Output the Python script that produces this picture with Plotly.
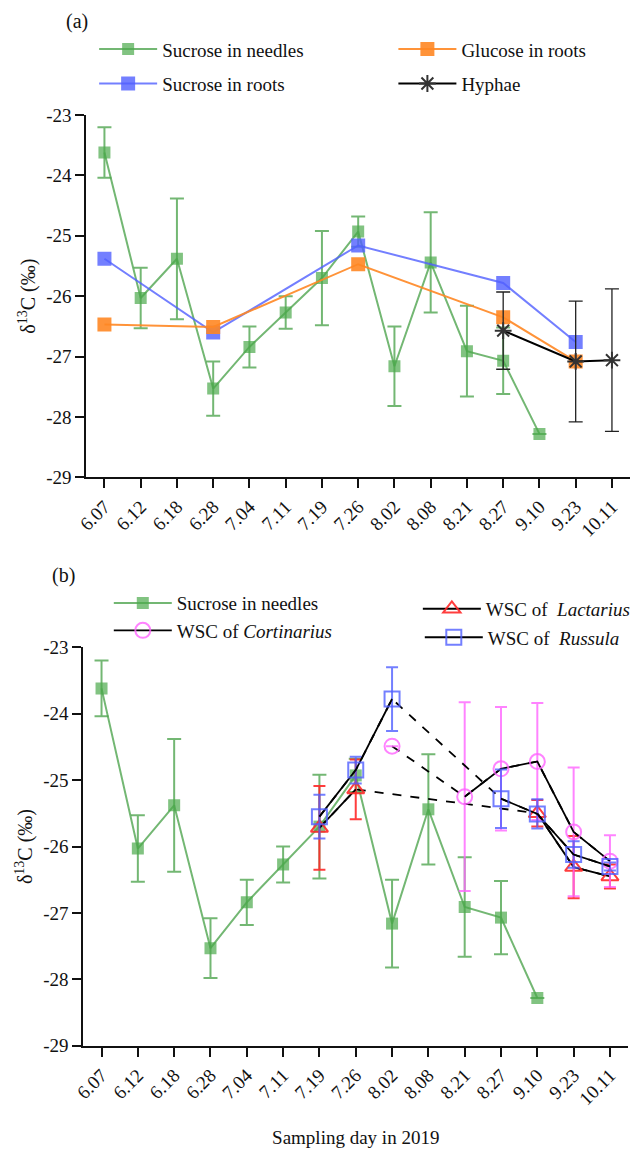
import plotly.graph_objects as go

days = ["6.07", "6.12", "6.18", "6.28", "7.04", "7.11", "7.19", "7.26",
        "8.02", "8.08", "8.21", "8.27", "9.10", "9.23", "10.11"]
y_ticks = [-29, -28, -27, -26, -25, -24, -23]
y_tick_labels = ["-29", "-28", "-27", "-26", "-25", "-24", "-23"]
N = None

# Panel (a)
needles = [-23.62, -26.03, -25.38, -27.53, -26.84, -26.27, -25.70, -24.93,
           -27.16, -25.44, -26.91, -27.07, -28.28, N, N]
needles_err = [0.42, 0.50, 1.00, 0.45, 0.34, 0.27, 0.78, 0.25,
               0.66, 0.83, 0.75, 0.55, N, N, N]
roots_suc = [-25.38, N, N, -26.60, N, N, N, -25.16, N, N, N, -25.78, N, -26.76, N]
roots_glu = [-26.47, N, N, -26.51, N, N, N, -25.47, N, N, N, -26.35, N, -27.08, N]
hyphae = [N, N, N, N, N, N, N, N, N, N, N, -26.57, N, -27.08, -27.06]
hyphae_err = [N, N, N, N, N, N, N, N, N, N, N, 0.64, N, 1.00, 1.18]

# Panel (b)
russula = [N, N, N, N, N, N, -25.55, -24.85, -23.78, N, N, -25.28, -25.51, -26.12, -26.30]
russula_err = [N, N, N, N, N, N, 0.33, 0.20, 0.48, N, N, 0.44, 0.22, 0.20, 0.06]
lactarius = [N, N, N, N, N, N, -25.72, -25.14, N, N, N, N, -25.50, -26.31, -26.45]
lactarius_err = [N, N, N, N, N, N, 0.63, 0.45, N, N, N, N, 0.20, 0.47, 0.18]
cortinarius = [N, N, N, N, N, N, N, N, -24.49, N, -25.25, -24.83, -24.72, -25.78, -26.22]
cortinarius_err = [N, N, N, N, N, N, N, N, N, N, 1.42, 0.93, 0.88, 0.97, 0.39]

GREEN_L = "rgba(80,165,80,0.80)"
GREEN_M = "rgba(76,170,76,0.70)"
BLUE = "rgba(80,95,255,0.80)"
ORANGE = "rgba(255,135,35,0.90)"
RED = "rgba(255,40,40,0.90)"
MAG = "rgba(255,100,255,0.80)"
FONT = "Liberation Serif, Times New Roman, DejaVu Serif, serif"

fig = go.Figure()

def err(arr, color, w=2, cap=7):
    return dict(type="data", array=arr, symmetric=True, color=color,
                thickness=w, width=cap, visible=True)

# ---- panel a
fig.add_trace(go.Scatter(x=days, y=needles, mode="lines+markers", name="Sucrose in needles",
    line=dict(color=GREEN_L, width=2), connectgaps=True,
    marker=dict(symbol="square", size=12, color=GREEN_M),
    error_y=err(needles_err, GREEN_L), xaxis="x", yaxis="y", legend="legend"))
fig.add_trace(go.Scatter(x=days, y=roots_suc, mode="lines+markers", name="Sucrose in roots",
    line=dict(color=BLUE, width=2), connectgaps=True,
    marker=dict(symbol="square", size=14, color=BLUE),
    xaxis="x", yaxis="y", legend="legend2"))
fig.add_trace(go.Scatter(x=days, y=roots_glu, mode="lines+markers", name="Glucose in roots",
    line=dict(color=ORANGE, width=2), connectgaps=True,
    marker=dict(symbol="square", size=14, color=ORANGE),
    xaxis="x", yaxis="y", legend="legend3"))
fig.add_trace(go.Scatter(x=days, y=hyphae, mode="lines+markers", name="Hyphae",
    line=dict(color="black", width=2), connectgaps=True,
    marker=dict(symbol="asterisk-open", size=14, color="#333333", line=dict(width=2, color="#333333")),
    error_y=err(hyphae_err, "#222222", w=1.3, cap=7),
    xaxis="x", yaxis="y", legend="legend4"))

# ---- panel b
fig.add_trace(go.Scatter(x=days, y=needles, mode="lines+markers", name="Sucrose in needles",
    line=dict(color=GREEN_L, width=2), connectgaps=True,
    marker=dict(symbol="square", size=12, color=GREEN_M),
    error_y=err(needles_err, GREEN_L), xaxis="x2", yaxis="y2", legend="legend5"))

for arr, errarr, color, sym, name, lg in [
        (lactarius, lactarius_err, RED, "triangle-up-open", "WSC of  <i>Lactarius</i>", "legend7"),
        (cortinarius, cortinarius_err, MAG, "circle-open", "WSC of <i>Cortinarius</i>", "legend6"),
        (russula, russula_err, BLUE, "square-open", "WSC of  <i>Russula</i>", "legend8")]:
    # dashed connectors across missing days
    fig.add_trace(go.Scatter(x=days, y=arr, mode="lines", connectgaps=True, showlegend=False,
        line=dict(color="black", width=1.8, dash="dash"), hoverinfo="skip",
        xaxis="x2", yaxis="y2"))
    fig.add_trace(go.Scatter(x=days, y=arr, mode="lines+markers", connectgaps=False, name=name,
        line=dict(color="black", width=1.8),
        marker=dict(symbol=sym, size=15, color=color, line=dict(width=2, color=color)),
        error_y=err(errarr, color, cap=6), xaxis="x2", yaxis="y2", legend=lg))

axis_common = dict(showline=True, linecolor="#111111", linewidth=2, ticks="outside",
                   ticklen=9, tickwidth=2, tickcolor="#111111", showgrid=False, zeroline=False,
                   tickfont=dict(family=FONT, size=19, color="#111111"))
ytitle = dict(text="δ<sup>13</sup>C (‰)", font=dict(family=FONT, size=20), standoff=5)

fig.update_layout(
    width=636, height=1156, margin=dict(l=0, r=0, t=0, b=0),
    paper_bgcolor="white", plot_bgcolor="white",
    font=dict(family=FONT, size=18, color="#111111"),
    xaxis=dict(domain=[77/636, 633/636], anchor="y", type="category",
               categoryorder="array", categoryarray=days, range=[-0.5, 14.5],
               tickangle=-45, **axis_common),
    yaxis=dict(domain=[1-476/1156, 1-107/1156], anchor="x", range=[-29, -23],
               tickvals=y_ticks, ticktext=y_tick_labels, title=ytitle, **axis_common),
    xaxis2=dict(domain=[74/636, 631/636], anchor="y2", type="category",
                categoryorder="array", categoryarray=days, range=[-0.5, 14.5],
                tickangle=-45,
                title=dict(text="Sampling day in 2019", font=dict(family=FONT, size=19), standoff=22),
                **axis_common),
    yaxis2=dict(domain=[1-1055/1156, 1-649/1156], anchor="x2", range=[-29, -23],
                tickvals=y_ticks, ticktext=y_tick_labels, title=ytitle, **axis_common),
    showlegend=True,
)

def leg(xpx, ypx):
    return dict(x=xpx/636, y=1-ypx/1156, xanchor="left", yanchor="middle",
                bgcolor="rgba(0,0,0,0)", font=dict(family=FONT, size=19, color="#111111"),
                itemwidth=58, orientation="v")

fig.update_layout(
    legend=leg(85, 40), legend2=leg(85, 75),
    legend3=leg(391, 40), legend4=leg(391, 75),
    legend5=leg(100, 604), legend6=leg(100, 632),
    legend7=leg(416, 610), legend8=leg(418, 639),
)

fig.add_annotation(text="(a)", x=54/636, y=1-12/1156, xref="paper", yref="paper",
                   xanchor="left", yanchor="middle", showarrow=False,
                   font=dict(family=FONT, size=20))
fig.add_annotation(text="(b)", x=40/636, y=1-576/1156, xref="paper", yref="paper",
                   xanchor="left", yanchor="middle", showarrow=False,
                   font=dict(family=FONT, size=20))

fig.write_html("out.html", config={"displayModeBar": False},
               post_script="document.body.style.margin='0';")
